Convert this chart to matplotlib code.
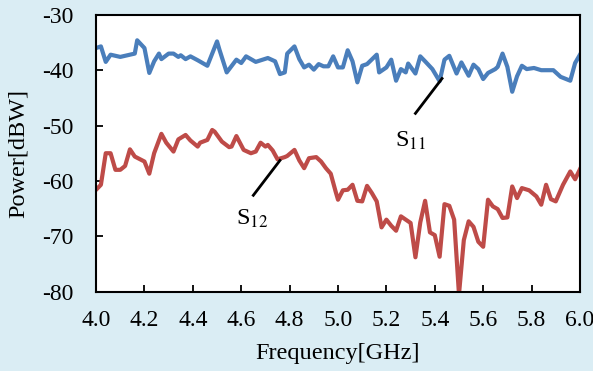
import numpy as np
import matplotlib
matplotlib.use("Agg")
import matplotlib.pyplot as plt

plt.rcParams['font.family'] = ['Liberation Serif', 'DejaVu Serif']
plt.rcParams['axes.unicode_minus'] = False

# S11 (blue)
f11 = [4.00, 4.02, 4.04, 4.06, 4.10, 4.14, 4.16, 4.17, 4.20, 4.22, 4.24, 4.26, 4.27,
       4.30, 4.32, 4.34, 4.35, 4.37, 4.39, 4.42, 4.46, 4.50, 4.51, 4.54, 4.58, 4.60,
       4.62, 4.66, 4.71, 4.74, 4.76, 4.78, 4.79, 4.82, 4.84, 4.86, 4.88, 4.90, 4.92,
       4.94, 4.96, 4.98, 5.00, 5.02, 5.04, 5.06, 5.08, 5.10, 5.12, 5.16, 5.17, 5.20,
       5.22, 5.24, 5.26, 5.28, 5.29, 5.32, 5.34, 5.36, 5.39, 5.42, 5.44, 5.46, 5.49,
       5.51, 5.54, 5.56, 5.58, 5.60, 5.62, 5.65, 5.66, 5.68, 5.70, 5.72, 5.74, 5.76,
       5.78, 5.81, 5.84, 5.89, 5.92, 5.96, 5.98, 6.00]
s11 = [-36.0, -35.7, -38.5, -37.2, -37.6, -37.2, -37.0, -34.6, -36.0, -40.5, -38.4,
       -37.0, -38.0, -37.0, -37.0, -37.6, -37.3, -38.0, -37.5, -38.2, -39.2, -34.8,
       -36.3, -40.4, -38.1, -38.7, -37.5, -38.5, -37.8, -38.4, -40.7, -40.4, -37.0,
       -35.7, -38.0, -39.5, -39.0, -39.9, -38.9, -39.3, -39.3, -37.5, -39.5, -39.5,
       -36.4, -38.4, -42.2, -39.2, -38.9, -37.2, -40.4, -39.5, -38.1, -41.9, -39.8,
       -40.4, -38.8, -40.6, -37.5, -38.4, -39.8, -42.0, -38.1, -37.4, -40.6, -38.6,
       -41.0, -39.0, -39.8, -41.6, -40.5, -39.8, -39.4, -37.0, -39.4, -43.9, -41.1,
       -39.2, -39.8, -39.6, -40.0, -40.0, -41.2, -41.9, -38.7, -37.2]

# S12 (red)
f12 = [4.00, 4.02, 4.04, 4.06, 4.08, 4.10, 4.12, 4.14, 4.16, 4.20, 4.22, 4.24, 4.27,
       4.29, 4.32, 4.34, 4.37, 4.39, 4.42, 4.43, 4.46, 4.48, 4.49, 4.52, 4.55, 4.56,
       4.58, 4.61, 4.64, 4.66, 4.68, 4.70, 4.71, 4.73, 4.75, 4.78, 4.79, 4.82, 4.84,
       4.86, 4.88, 4.91, 4.93, 4.95, 4.97, 4.99, 5.00, 5.02, 5.04, 5.06, 5.08, 5.10,
       5.12, 5.14, 5.16, 5.18, 5.20, 5.22, 5.24, 5.26, 5.28, 5.30, 5.32, 5.34, 5.36,
       5.38, 5.40, 5.42, 5.44, 5.46, 5.48, 5.50, 5.52, 5.54, 5.56, 5.58, 5.60, 5.62,
       5.64, 5.66, 5.68, 5.70, 5.72, 5.74, 5.76, 5.79, 5.82, 5.84, 5.86, 5.88, 5.90,
       5.93, 5.96, 5.98, 6.00]
s12 = [-61.6, -60.7, -55.0, -55.0, -58.0, -58.0, -57.3, -54.3, -55.6, -56.5, -58.7,
       -55.0, -51.5, -53.1, -54.7, -52.5, -51.7, -52.7, -53.8, -53.1, -52.6, -50.8,
       -51.1, -52.9, -53.9, -53.8, -51.9, -54.4, -55.0, -54.7, -53.1, -53.8, -53.5,
       -54.5, -56.1, -55.7, -55.5, -54.4, -56.3, -57.7, -55.9, -55.7, -56.5, -57.7,
       -58.7, -61.9, -63.4, -61.7, -61.6, -60.7, -63.6, -63.7, -60.9, -62.2, -63.7,
       -68.4, -67.0, -68.1, -69.0, -66.4, -67.0, -67.6, -73.8, -67.5, -63.6, -69.3,
       -69.8, -73.7, -64.2, -64.5, -67.0, -80.5, -70.7, -67.3, -68.3, -71.0, -71.9,
       -63.4, -64.6, -65.1, -66.7, -66.6, -61.0, -63.1, -61.3, -61.7, -62.8, -64.3,
       -60.7, -63.3, -63.7, -60.7, -58.3, -59.7, -57.9]

xticks = [4.0, 4.2, 4.4, 4.6, 4.8, 5.0, 5.2, 5.4, 5.6, 5.8, 6.0]
yticks = [-80, -70, -60, -50, -40, -30]

fig = plt.figure(figsize=(5.93, 3.71), dpi=100)
fig.patch.set_facecolor('#daedf4')
ax = fig.add_axes([0.162, 0.214, 0.816, 0.746])
ax.set_facecolor('white')

ax.plot(f11, s11, color='#4a7ebb', lw=3, solid_joinstyle='round')
ax.plot(f12, s12, color='#be4b48', lw=3, solid_joinstyle='round')

ax.set_xlim(4.0, 6.0)
ax.set_ylim(-80, -30)
ax.set_xticks(xticks)
ax.set_xticklabels(['%.1f' % v for v in xticks])
ax.set_yticks(yticks)
ax.set_yticklabels(['%d' % v for v in yticks])
ax.tick_params(direction='in', length=5, width=1.3, labelsize=17)
ax.tick_params(axis='x', pad=13)
ax.tick_params(axis='y', pad=16)
for sp in ax.spines.values():
    sp.set_linewidth(1.5)
    sp.set_color('black')

ax.set_xlabel('Frequency[GHz]', fontsize=17.5, labelpad=9)
ax.set_ylabel('Power[dBW]', fontsize=17.5, labelpad=10)

# callouts
ax.plot([5.43, 5.32], [-41.5, -47.8], color='black', lw=2)
ax.text(5.30, -52.7, 'S$_{11}$', fontsize=17.5, ha='center', va='center',
        math_fontfamily='stix')
ax.plot([4.76, 4.65], [-56.3, -62.6], color='black', lw=2)
ax.text(4.645, -66.8, 'S$_{12}$', fontsize=17.5, ha='center', va='center',
        math_fontfamily='stix')

fig.savefig('out.png', dpi=100, facecolor=fig.get_facecolor())
